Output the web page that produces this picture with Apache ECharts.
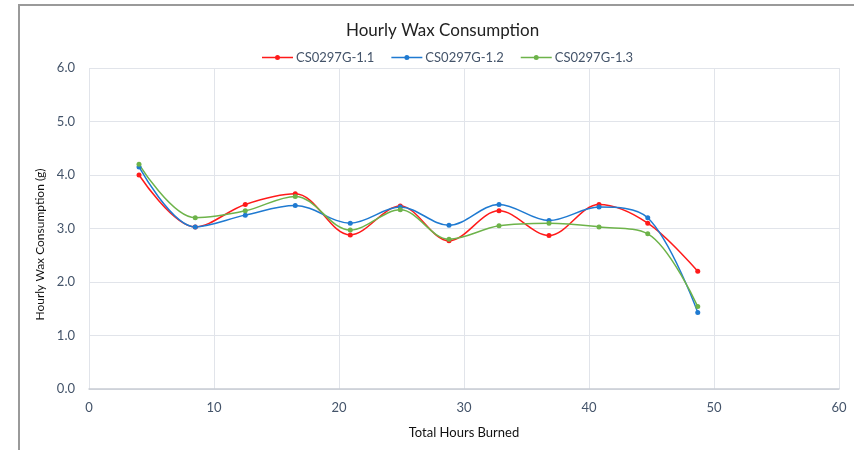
<!DOCTYPE html>
<html><head><meta charset="utf-8">
<script src="https://cdn.jsdelivr.net/npm/echarts@6/dist/echarts.min.js"></script>
<style>html,body{margin:0;padding:0;background:#fff}#c{width:854px;height:450px}</style>
</head><body><div id="c"></div>
<script>
const hours = [4.0, 8.5, 12.5, 16.5, 20.9, 24.9, 28.8, 32.8, 36.8, 40.8, 44.7, 48.7];
const s11 = [4.00, 3.03, 3.45, 3.65, 2.88, 3.42, 2.77, 3.33, 2.87, 3.45, 3.10, 2.20];
const s12 = [4.15, 3.03, 3.25, 3.43, 3.10, 3.40, 3.06, 3.45, 3.15, 3.40, 3.20, 1.43];
const s13 = [4.20, 3.20, 3.33, 3.60, 2.97, 3.35, 2.80, 3.05, 3.10, 3.03, 2.90, 1.54];
const names = ['CS0297G-1.1', 'CS0297G-1.2', 'CS0297G-1.3'];
const colors = ['#ff1a1a', '#1f7ad1', '#6db34a'];
const F = 'Lato, "Open Sans", sans-serif';
const pairs = a => hours.map((h, i) => [h, a[i]]);
const chart = echarts.init(document.getElementById('c'), null, {renderer: 'canvas'});
const mk = (i, d) => ({
  name: names[i], type: 'line', data: pairs(d), smooth: 0.35,
  symbol: 'circle', symbolSize: 5, color: colors[i],
  lineStyle: {width: 1.5, color: colors[i]}, itemStyle: {color: colors[i]}
});
const legendIcon = 'path://M0,3.3L31,3.3L31,4.7L0,4.7Z M15.5,1.5A2.5,2.5 0 1,1 15.5,6.5A2.5,2.5 0 1,1 15.5,1.5Z M0,0L0.01,0Z M0,8L0.01,8Z';
chart.setOption({
  animation: false,
  graphic: [{type: 'rect', shape: {x: 19, y: 5, width: 900, height: 500},
    style: {fill: 'none', stroke: '#9a9a9a', lineWidth: 2}, silent: true}],
  title: {text: 'Hourly Wax Consumption', left: 341, top: 17,
    textStyle: {fontFamily: F, fontSize: 17, fontWeight: 'normal', color: '#222'}},
  legend: {top: 46, left: 257, itemWidth: 31, itemHeight: 8, itemGap: 17,
    textStyle: {fontFamily: F, fontSize: 13, color: '#44546a', padding: [0, 0, 0, -2]},
    data: names.map(n => ({name: n, icon: legendIcon}))},
  grid: {left: 89, right: 15, top: 68, bottom: 61, containLabel: false},
  xAxis: {type: 'value', min: 0, max: 60, interval: 10,
    name: 'Total Hours Burned', nameLocation: 'middle', nameGap: 37,
    nameTextStyle: {fontFamily: F, fontSize: 13, color: '#111'},
    axisLine: {lineStyle: {color: '#c8ccd4', width: 1.5}}, axisTick: {show: false},
    axisLabel: {fontFamily: F, fontSize: 13, color: '#44546a', margin: 12},
    splitLine: {show: true, lineStyle: {color: '#e1e4ea'}}},
  yAxis: {type: 'value', min: 0, max: 6, interval: 1,
    name: 'Hourly Wax Consumption (g)', nameLocation: 'middle', nameGap: 40,
    nameTextStyle: {fontFamily: F, fontSize: 12, color: '#111', padding: [0, 32, 0, 0]},
    axisLine: {show: false}, axisTick: {show: false},
    axisLabel: {fontFamily: F, fontSize: 13, color: '#44546a', margin: 14,
      formatter: v => v.toFixed(1)},
    splitLine: {show: true, lineStyle: {color: '#e1e4ea'}}},
  series: [mk(0, s11), mk(1, s12), mk(2, s13)]
});
</script></body></html>
